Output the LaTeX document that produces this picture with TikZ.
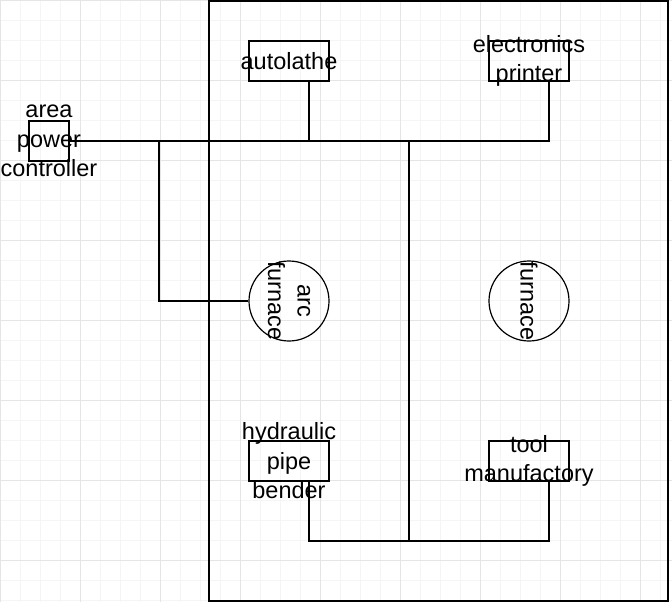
\documentclass[tikz,border=0pt]{standalone}
\usepackage{fontspec}
\setmainfont{Liberation Sans}
\begin{document}
\begin{tikzpicture}[x=1pt,y=-1pt,line width=1.2pt,
  box/.style={draw,minimum width=80pt,minimum height=40pt,inner sep=0pt},
  lbl/.style={align=center,inner sep=0pt,font=\fontsize{23.5}{29.5}\selectfont},
  circ/.style={draw,circle,minimum size=80pt,inner sep=0pt}]
\useasboundingbox (0,0) rectangle (672,602);
\fill[white] (0,0) rectangle (672,602);
\draw[line width=0.5pt,black!4] (0,0) grid[step=20pt] (672,602);
\draw[line width=0.5pt,black!10] (0,0) grid[step=80pt] (672,602);
\draw (209,1) rectangle (668,601);
\node[box] (al) at (289,61) {};
\node[lbl] at (al) {autolathe};
\node[box] (ep) at (529,61) {};
\node[lbl] at (ep) {electronics\\printer};
\node[box,minimum width=40pt] (apc) at (49,141) {};
\node[lbl] at (apc) {area\\power\\controller};
\node[circ] (af) at (289,301) {};
\node[lbl,rotate=-90] at (af) {arc\\furnace};
\node[circ] (fu) at (529,301) {};
\node[lbl,rotate=-90] at (fu) {furnace};
\node[box] (hp) at (289,461) {};
\node[lbl] at (hp) {hydraulic\\pipe\\bender};
\node[box] (tm) at (529,461) {};
\node[lbl] at (tm) {tool\\manufactory};
\coordinate (j1) at (159,141);
\coordinate (j2) at (409,141);
\coordinate (j3) at (409,541);
\draw (apc.east) -- (549,141) -- (ep.south -| 549,0);
\draw (al.south -| 309,0) -- (309,141);
\draw (j1) |- (af.west);
\draw (j2) -- (j3);
\draw (hp.south -| 309,0) -- (309,541) -- (549,541) -- (tm.south -| 549,0);
\end{tikzpicture}
\end{document}
